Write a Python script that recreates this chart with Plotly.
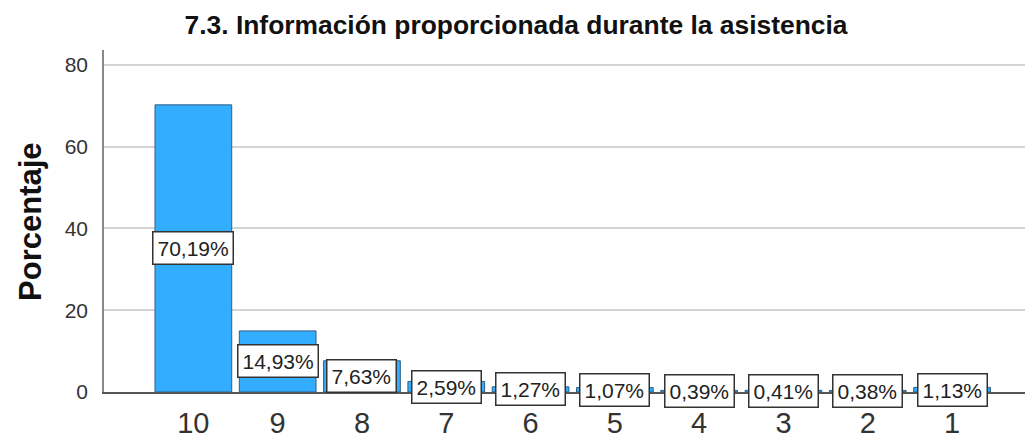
import plotly.graph_objects as go

categories = ["10", "9", "8", "7", "6", "5", "4", "3", "2", "1"]
percentages = [70.19, 14.93, 7.63, 2.59, 1.27, 1.07, 0.39, 0.41, 0.38, 1.13]
y_ticks = [0, 20, 40, 60, 80]
title_text = "7.3. Información proporcionada durante la asistencia"
y_title = "Porcentaje"

FONT = "Liberation Sans, Arial, sans-serif"

# page body has an 8px default margin -> figure is drawn offset by 8px
W, H = 1025, 431

fig = go.Figure()
fig.add_trace(go.Bar(
    x=categories,
    y=percentages,
    width=0.91,
    marker=dict(color="#33adff", line=dict(color="#2f5f80", width=1)),
    hoverinfo="x+y",
))

annotations = []
for i, v in enumerate(percentages):
    annotations.append(dict(
        x=i, y=v / 2, xref="x", yref="y",
        text=f"{v:.2f}%".replace(".", ","),
        showarrow=False,
        font=dict(family=FONT, size=21, color="#222222"),
        bgcolor="white",
        bordercolor="#333333",
        borderwidth=1.5,
        borderpad=4,
        xanchor="center", yanchor="middle",
    ))

annotations.append(dict(
    x=-0.0797, y=0.5, xref="paper", yref="paper",
    text=y_title, textangle=-90, showarrow=False,
    font=dict(family=FONT, size=31, color="#111111", weight="bold"),
    xanchor="center", yanchor="middle",
))

fig.update_layout(
    width=W, height=H,
    margin=dict(l=96, r=0, t=42, b=45),
    paper_bgcolor="white", plot_bgcolor="white",
    showlegend=False,
    title=dict(
        text=title_text, x=(516 - 8) / W, xref="container", xanchor="center",
        y=1 - 17 / H, yref="container", yanchor="middle",
        font=dict(family=FONT, size=26.4, color="#111111", weight="bold"),
    ),
    annotations=annotations,
    xaxis=dict(
        type="category",
        range=[-1.06, 9.96],
        showgrid=False,
        showline=True, linecolor="#555555", linewidth=1.5,
        ticks="",
        tickfont=dict(family=FONT, size=29, color="#333333"),
        ticklabelstandoff=4,
        zeroline=False,
    ),
    yaxis=dict(
        range=[0, 83.6],
        tickvals=y_ticks,
        showgrid=True, gridcolor="#d4d4d4", gridwidth=2,
        showline=True, linecolor="#888888", linewidth=1.5,
        ticks="",
        tickfont=dict(family=FONT, size=21, color="#333333"),
        ticklabelstandoff=10,
        zeroline=False,
    ),
)

fig.write_html("out.html")
